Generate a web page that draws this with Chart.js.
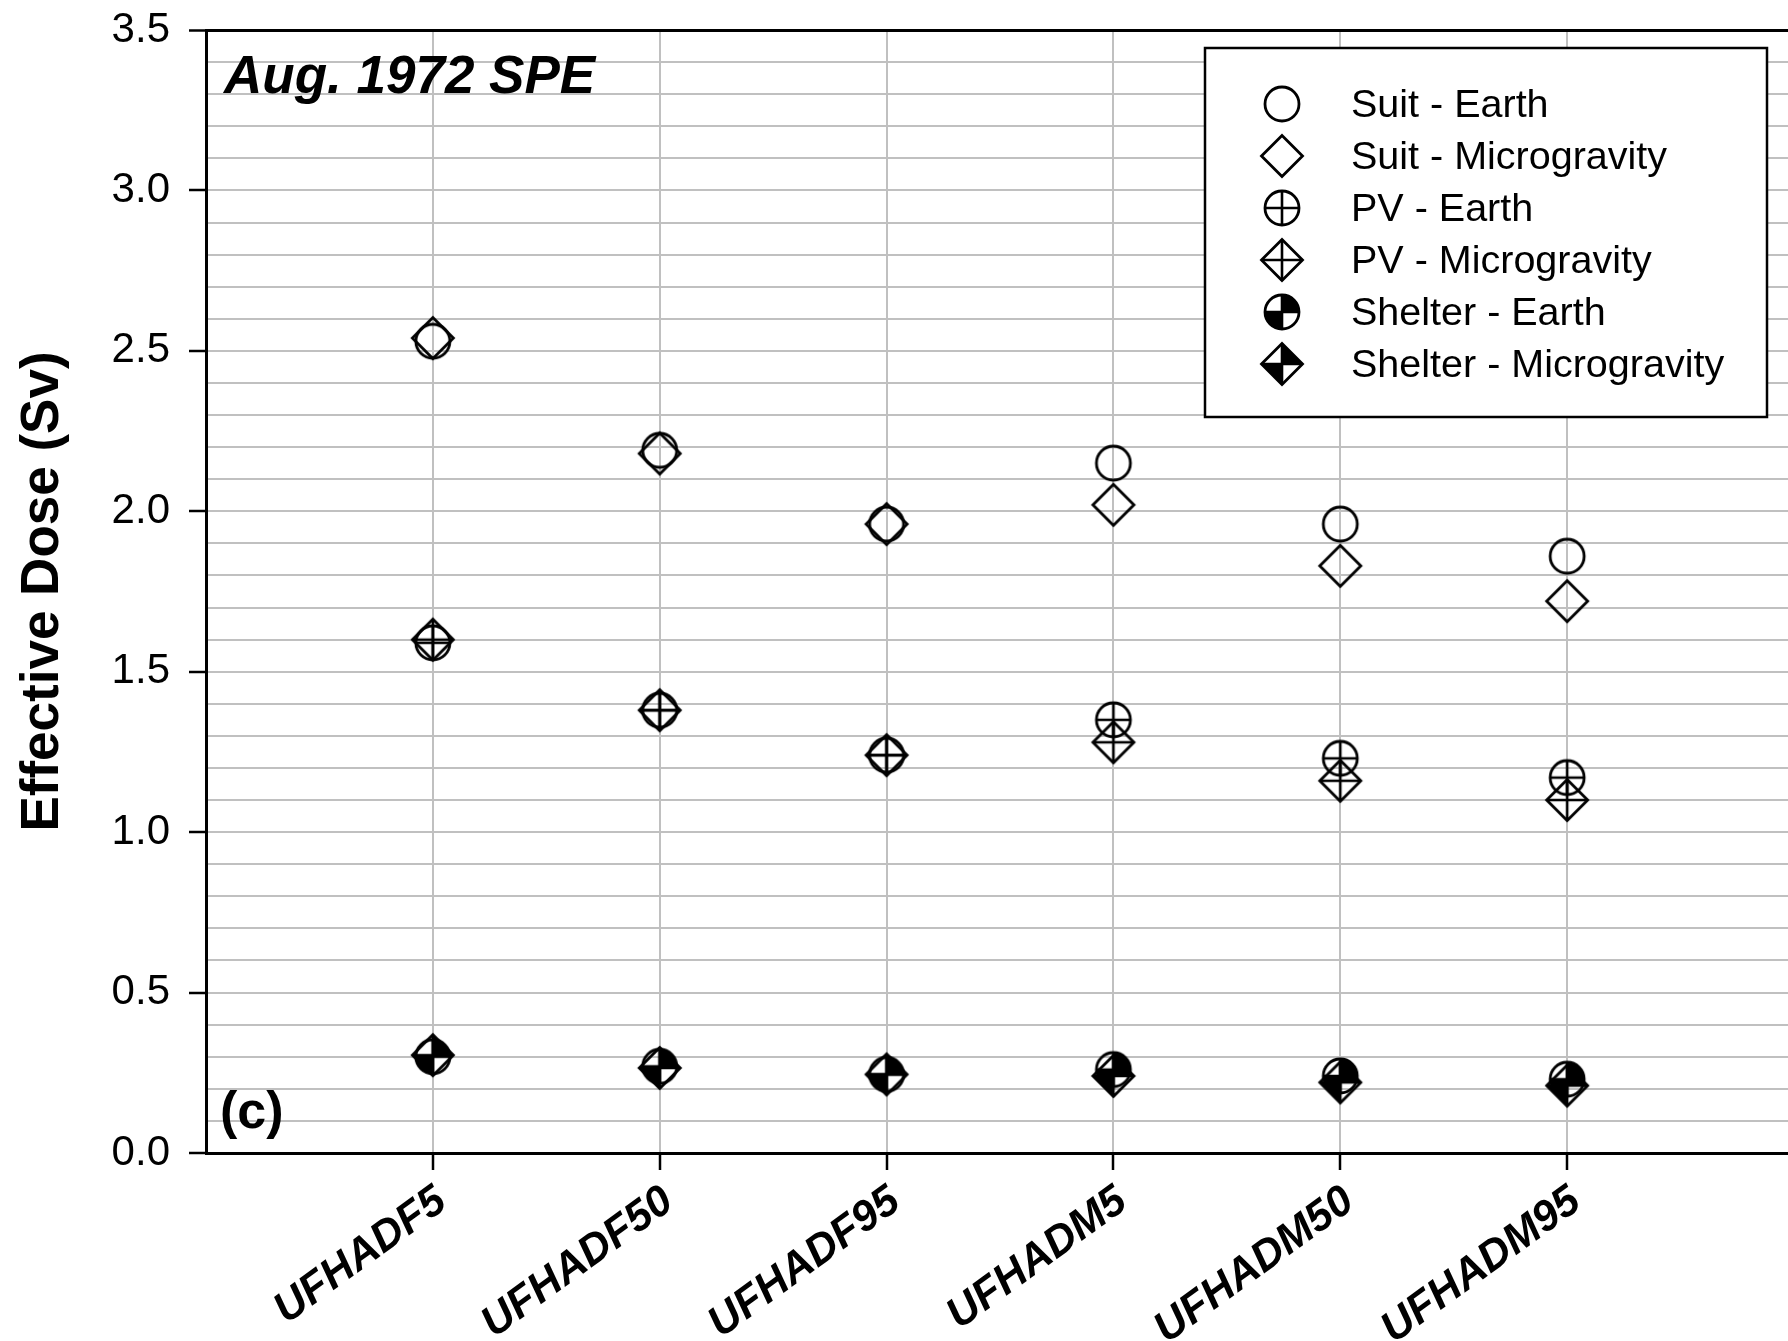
<!DOCTYPE html>
<html>
<head>
<meta charset="utf-8">
<script src="https://cdn.jsdelivr.net/npm/chart.js@4.4.1/dist/chart.umd.min.js"></script>
<style>
  html, body { margin: 0; padding: 0; background: #fff; overflow: hidden; }
  #wrap { width: 1788px; height: 1341px; overflow: hidden; position: relative; }
  canvas { display: block; }
</style>
</head>
<body>
<div id="wrap"><canvas id="c" width="1794" height="1341"></canvas></div>
<script>
// ---- data ----
const categories = ['UFHADF5', 'UFHADF50', 'UFHADF95', 'UFHADM5', 'UFHADM50', 'UFHADM95'];
const seriesNames = ['Suit - Earth', 'Suit - Microgravity', 'PV - Earth', 'PV - Microgravity', 'Shelter - Earth', 'Shelter - Microgravity'];
const suitEarth    = [2.53, 2.19, 1.96, 2.15, 1.96, 1.86];
const suitMicro    = [2.54, 2.18, 1.96, 2.02, 1.83, 1.72];
const pvEarth      = [1.59, 1.38, 1.24, 1.35, 1.23, 1.17];
const pvMicro      = [1.60, 1.38, 1.24, 1.28, 1.16, 1.10];
const shelterEarth = [0.30, 0.27, 0.245, 0.26, 0.24, 0.23];
const shelterMicro = [0.305, 0.265, 0.245, 0.24, 0.22, 0.21];
const yTickLabels  = ['0.0', '0.5', '1.0', '1.5', '2.0', '2.5', '3.0', '3.5'];

const FONT = "'Liberation Sans', Arial, Helvetica, sans-serif";

// ---- marker images ----
function makeMarker(shape, kind) {
  const S = 52, c = S / 2;
  const cv = document.createElement('canvas');
  cv.width = S; cv.height = S;
  const g = cv.getContext('2d');
  const R = 17, D = 20.5;
  function path() {
    g.beginPath();
    if (shape === 'circle') g.arc(c, c, R, 0, Math.PI * 2);
    else { g.moveTo(c, c - D); g.lineTo(c + D, c); g.lineTo(c, c + D); g.lineTo(c - D, c); g.closePath(); }
  }
  const ext = shape === 'circle' ? R : D;
  if (kind === 'shelter') {
    g.save(); path(); g.clip();
    g.fillStyle = '#000';
    g.fillRect(c, c - ext - 2, ext + 2, ext + 2);   // top-right
    g.fillRect(c - ext - 2, c, ext + 2, ext + 2);   // bottom-left
    g.restore();
  }
  g.lineWidth = 2.8; g.strokeStyle = '#000';
  path(); g.stroke();
  if (kind === 'pv' || kind === 'shelter') {
    g.beginPath();
    g.moveTo(c - ext, c); g.lineTo(c + ext, c);
    g.moveTo(c, c - ext); g.lineTo(c, c + ext);
    g.lineWidth = 2.6; g.stroke();
  }
  return cv;
}
const markers = [
  makeMarker('circle', 'open'), makeMarker('diamond', 'open'),
  makeMarker('circle', 'pv'), makeMarker('diamond', 'pv'),
  makeMarker('circle', 'shelter'), makeMarker('diamond', 'shelter')
];
const seriesValues = [suitEarth, suitMicro, pvEarth, pvMicro, shelterEarth, shelterMicro];

const datasets = seriesValues.map((vals, si) => ({
  label: seriesNames[si],
  data: vals.map((v, i) => ({ x: i + 1, y: v })),
  pointStyle: markers[si],
  pointRadius: 20,
  showLine: false
}));

// ---- plugin: annotations + legend ----
const overlay = {
  id: 'overlay',
  afterDatasetsDraw(chart) {
    const ctx = chart.ctx;
    ctx.save();
    ctx.fillStyle = '#000';
    ctx.textBaseline = 'alphabetic';
    ctx.textAlign = 'left';
    ctx.font = 'italic bold 53px ' + FONT;
    ctx.fillText('Aug. 1972 SPE', 224, 93);
    ctx.font = 'bold 52px ' + FONT;
    ctx.fillText('(c)', 220, 1128);

    // legend
    const bx = 1205, by = 48, bw = 562, bh = 369;
    ctx.fillStyle = '#fff';
    ctx.fillRect(bx, by, bw, bh);
    ctx.lineWidth = 2.5; ctx.strokeStyle = '#000';
    ctx.strokeRect(bx, by, bw, bh);
    ctx.font = '39.5px ' + FONT;
    ctx.textBaseline = 'middle';
    ctx.fillStyle = '#000';
    seriesNames.forEach((name, i) => {
      const y = 104 + i * 52;
      const m = markers[i];
      ctx.drawImage(m, 1282 - m.width / 2, y - m.height / 2);
      ctx.fillText(name, 1351, y + 2);
    });
    ctx.restore();
  }
};

new Chart(document.getElementById('c'), {
  type: 'scatter',
  data: { datasets },
  plugins: [overlay],
  options: {
    responsive: false,
    animation: false,
    devicePixelRatio: 1,
    events: [],
    layout: { autoPadding: false, padding: { left: 0, top: 30, right: 0, bottom: 0 } },
    plugins: { legend: { display: false }, tooltip: { enabled: false } },
    scales: {
      x: {
        type: 'linear', min: 0, max: 7,
        afterBuildTicks: s => { s.ticks = categories.map((c, i) => ({ value: i + 1 })); },
        afterFit: s => { s.height = 188; s.paddingLeft = 0; s.paddingRight = 0; },
        ticks: {
          autoSkip: false, minRotation: 36, maxRotation: 36,
          color: '#000', padding: 6, labelOffset: 9,
          font: { family: FONT, size: 43, weight: 'bold', style: 'italic' },
          callback: v => categories[Math.round(v) - 1] || ''
        },
        grid: { color: '#c0c0c0', lineWidth: 2, tickColor: '#000', tickLength: 17, tickWidth: 2.5 },
        border: { color: '#000', width: 3 }
      },
      y: {
        min: 0, max: 3.5,
        afterFit: s => { s.width = 206; s.paddingTop = 0; s.paddingBottom = 0; },
        ticks: {
          stepSize: 0.1, autoSkip: false, color: '#000', padding: 19,
          font: { family: FONT, size: 42 },
          callback: v => {
            const k = Math.round(v * 2);
            return Math.abs(v * 2 - k) < 1e-6 ? yTickLabels[k] : '';
          }
        },
        grid: {
          color: ctx => (ctx.tick && Math.abs(ctx.tick.value - 3.5) < 1e-6) ? '#000' : '#c0c0c0',
          lineWidth: ctx => (ctx.tick && Math.abs(ctx.tick.value - 3.5) < 1e-6) ? 3 : 2,
          tickColor: ctx => {
            const v = ctx.tick ? ctx.tick.value : 0;
            return Math.abs(v * 2 - Math.round(v * 2)) < 1e-6 ? '#000' : 'rgba(0,0,0,0)';
          },
          tickLength: 17, tickWidth: 2.5
        },
        border: { color: '#000', width: 3 },
        title: {
          display: true, text: 'Effective Dose (Sv)', color: '#000',
          font: { family: FONT, size: 53, weight: 'bold' },
          padding: { top: 12, bottom: 0 }
        }
      }
    }
  }
});
</script>
</body>
</html>
